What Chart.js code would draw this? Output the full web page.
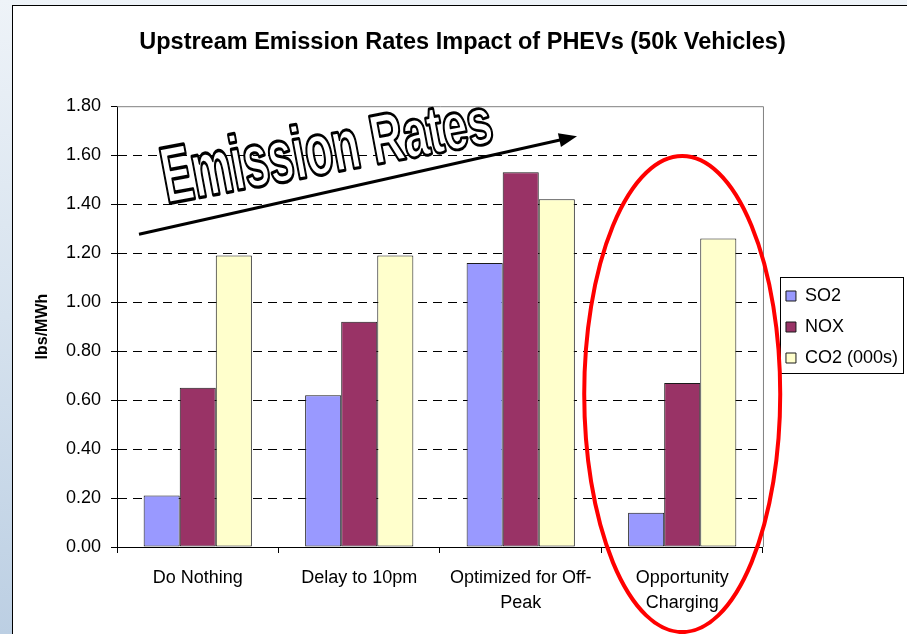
<!DOCTYPE html>
<html>
<head>
<meta charset="utf-8">
<title>Upstream Emission Rates Impact of PHEVs</title>
<script src="https://cdn.jsdelivr.net/npm/chart.js@4.4.1/dist/chart.umd.min.js"></script>
<style>
  html, body { margin: 0; padding: 0; }
  body {
    width: 907px; height: 634px; overflow: hidden; position: relative;
    background: linear-gradient(to bottom, #eef3f8 0%, #d6e2ee 50%, #bccfe3 100%);
  }
  #frame { position: absolute; left: 12px; top: 5px; width: 910px; height: 640px; background: #fff; border: 1px solid #000; }
  #wrap { position: absolute; left: 0; top: 0; width: 894px; height: 628px; }
</style>
</head>
<body>
<div id="frame">
  <div id="wrap"><canvas id="emChart"></canvas></div>
</div>
<script>
// categories and series (lbs/MWh)
const categories = [['Do Nothing'], ['Delay to 10pm'], ['Optimized for Off-', 'Peak'], ['Opportunity', 'Charging']];
const so2 = [0.21, 0.62, 1.16, 0.14];
const nox = [0.65, 0.92, 1.53, 0.67];
const co2 = [1.19, 1.19, 1.42, 1.26];
const seriesNames = ['SO2', 'NOX', 'CO2 (000s)'];
const yMin = 0, yMax = 1.8, yStep = 0.2;

const fontFamily = 'Arial, "Liberation Sans", sans-serif';
Chart.defaults.font.family = fontFamily;
Chart.defaults.color = '#000';

// extra drawing: plot frame, legend box, "Emission Rates" word art, arrow, red ellipse
const decor = {
    id: 'decor',
    afterLayout(chart) {
        // keep legend a bit away from plot area, and a bit lower
        const lg = chart.legend;
        const d = chart.chartArea.right + 10 - lg.left;
        lg.left += d;
        lg.right += d;
        lg.top += 7;
        lg.bottom += 7;
    },
    beforeDatasetsDraw(chart) {
        const {ctx, chartArea: a} = chart;
        ctx.save();
        ctx.strokeStyle = '#808080';
        ctx.lineWidth = 1;
        ctx.beginPath();
        ctx.moveTo(a.left, a.top + 0.5);
        ctx.lineTo(a.right + 0.5, a.top + 0.5);
        ctx.lineTo(a.right + 0.5, a.bottom);
        ctx.stroke();
        ctx.restore();
    },
    afterDraw(chart) {
        const {ctx, chartArea: a} = chart;
        const x = chart.scales.x, y = chart.scales.y;

        // legend border
        const hb = chart.legend.legendHitBoxes;
        if (hb.length) {
            const l = hb[0].left - 6;
            const t = hb[0].top - 10;
            const r = Math.max(...hb.map(h => h.left + h.width)) + 5;
            const b = hb[hb.length - 1].top + hb[hb.length - 1].height + 6;
            ctx.save();
            ctx.strokeStyle = '#000';
            ctx.lineWidth = 1;
            ctx.strokeRect(Math.round(l) + 0.5, Math.round(t) + 0.5, Math.round(r - l), Math.round(b - t));
            ctx.restore();
        }

        // word art text, letters get a little smaller to the right
        const txt = 'Emission Rates';
        ctx.save();
        ctx.translate(a.left + 50, a.top + 97);
        ctx.rotate(-10.6 * Math.PI / 180);
        ctx.font = 'bold 80px Arial, "Liberation Sans", sans-serif';
        ctx.textBaseline = 'alphabetic';
        const widths = [...txt].map(ch => ctx.measureText(ch).width);
        const total = widths.reduce((s, v) => s + v, 0);
        const sx = 334 / total;
        ctx.lineJoin = 'round';
        ctx.fillStyle = '#fff';
        ctx.strokeStyle = '#000';
        let cur = 0;
        [...txt].forEach((ch, i) => {
            const t = (cur + widths[i] / 2) / total;
            ctx.save();
            ctx.translate(cur * sx, 0);
            ctx.scale(sx, 1 - 0.19 * t);
            ctx.lineWidth = 4.6;
            ctx.strokeText(ch, 0, 0);
            ctx.fillText(ch, 0, 0);
            ctx.lineWidth = 2.4;
            ctx.strokeText(ch, 0, 0);
            ctx.restore();
            cur += widths[i];
        });
        ctx.restore();

        // arrow
        const x0 = a.left + 22, y0 = a.top + 128;
        const x1 = a.left + 460, y1 = a.top + 30;
        const ang = Math.atan2(y1 - y0, x1 - x0);
        ctx.save();
        ctx.strokeStyle = '#000';
        ctx.fillStyle = '#000';
        ctx.lineWidth = 3;
        ctx.beginPath();
        ctx.moveTo(x0, y0);
        ctx.lineTo(x1 - 14 * Math.cos(ang), y1 - 14 * Math.sin(ang));
        ctx.stroke();
        ctx.translate(x1, y1);
        ctx.rotate(ang);
        ctx.beginPath();
        ctx.moveTo(0, 0);
        ctx.lineTo(-18, -7);
        ctx.lineTo(-18, 7);
        ctx.closePath();
        ctx.fill();
        ctx.restore();

        // red ellipse around the last category
        const cx = x.getPixelForValue(3);
        const cy = (y.getPixelForValue(1.6) + a.bottom) / 2 + 43;
        ctx.save();
        ctx.strokeStyle = '#ff0000';
        ctx.lineWidth = 4;
        ctx.beginPath();
        ctx.ellipse(cx, cy, 98, 238, 0, 0, Math.PI * 2);
        ctx.stroke();
        ctx.restore();
    }
};

const ctx = document.getElementById('emChart').getContext('2d');
const emChart = new Chart(ctx, {
    type: 'bar',
    data: {
        labels: categories,
        datasets: [
            { label: seriesNames[0], data: so2, backgroundColor: '#9999ff' },
            { label: seriesNames[1], data: nox, backgroundColor: '#993366' },
            { label: seriesNames[2], data: co2, backgroundColor: '#ffffcc' }
        ].map(ds => Object.assign(ds, {
            borderColor: '#1a1a1a',
            borderWidth: 1,
            borderSkipped: false,
            categoryPercentage: 0.67,
            barPercentage: 1.0
        }))
    },
    options: {
        responsive: true,
        maintainAspectRatio: false,
        animation: false,
        layout: { padding: { left: 14, right: 9, top: 0, bottom: 0 } },
        plugins: {
            title: {
                display: true,
                text: 'Upstream Emission Rates Impact of PHEVs (50k Vehicles)',
                font: { size: 23.5, weight: 'bold' },
                color: '#000',
                padding: { top: 22, bottom: 50 }
            },
            legend: {
                position: 'right',
                labels: {
                    boxWidth: 10,
                    boxHeight: 10,
                    padding: 13,
                    font: { size: 18 },
                    color: '#000'
                }
            },
            tooltip: { enabled: false }
        },
        scales: {
            x: {
                afterFit: s => { s.height = 87; },
                grid: {
                    display: true,
                    drawOnChartArea: false,
                    drawTicks: true,
                    tickLength: 6,
                    color: '#000',
                    tickColor: '#000'
                },
                border: { display: true, color: '#000', width: 1 },
                ticks: {
                    font: { size: 18, lineHeight: 1.4 },
                    color: '#000',
                    padding: 12,
                    maxRotation: 0,
                    autoSkip: false
                }
            },
            y: {
                min: yMin,
                max: yMax,
                afterFit: s => { s.width = 90; },
                grid: {
                    color: c => (c.tick && (c.tick.value <= 0.001 || c.tick.value >= yMax - 0.001)) ? 'rgba(0,0,0,0)' : '#000',
                    tickColor: '#000',
                    tickLength: 6,
                    lineWidth: 1
                },
                border: { display: true, color: '#000', width: 1, dash: [9, 6] },
                ticks: {
                    stepSize: yStep,
                    font: { size: 18 },
                    color: '#000',
                    padding: 10,
                    callback: v => Number(v).toFixed(2)
                },
                title: {
                    display: true,
                    text: 'lbs/MWh',
                    font: { size: 16, weight: 'bold' },
                    color: '#000',
                    padding: { top: 6, bottom: 0 }
                }
            }
        }
    },
    plugins: [decor]
});
</script>
</body>
</html>
